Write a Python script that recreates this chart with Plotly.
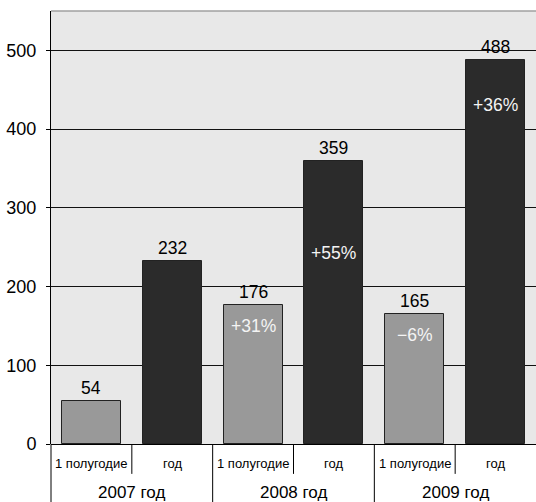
import plotly.graph_objects as go

categories = ["1 полугодие", "год", "1 полугодие", "год", "1 полугодие", "год"]
years = ["2007 год", "2008 год", "2009 год"]
values = [54, 232, 176, 359, 165, 488]
growth = ["", "", "+31%", "+55%", "−6%", "+36%"]
growth_shift = [0, 0, -21, -92, -21, -45]
bar_colors = ["#999999", "#2b2b2b", "#999999", "#2b2b2b", "#999999", "#2b2b2b"]
y_ticks = [0, 100, 200, 300, 400, 500]

FONT = "Liberation Sans, Arial, sans-serif"

x = list(range(len(values)))

fig = go.Figure()
fig.add_trace(go.Bar(
    x=x, y=values, width=0.73,
    marker=dict(color=bar_colors, line=dict(color="#222222", width=1)),
    hoverinfo="skip",
))

ann = []
for i, v in enumerate(values):
    ann.append(dict(x=i, y=v, xref="x", yref="y", text=str(v), showarrow=False,
                    yanchor="bottom", yshift=1, font=dict(family=FONT, size=17.5, color="black")))
    if growth[i]:
        ann.append(dict(x=i, y=v, xref="x", yref="y", text=growth[i], showarrow=False,
                        yanchor="middle", yshift=growth_shift[i],
                        font=dict(family=FONT, size=17.5, color="#f4f4f4")))
    ann.append(dict(x=i, y=-0.045, xref="x", yref="paper", text=categories[i], showarrow=False,
                    yanchor="middle", font=dict(family=FONT, size=13, color="black")))
for j, yr in enumerate(years):
    ann.append(dict(x=2 * j + 0.5, y=-0.113, xref="x", yref="paper", text=yr, showarrow=False,
                    yanchor="middle", font=dict(family=FONT, size=17, color="black")))

shapes = []
# top border
shapes.append(dict(type="line", xref="paper", yref="paper", x0=0, x1=1, y0=1, y1=1,
                   line=dict(color="#a0a0a0", width=1.5)))
# left axis extension below
shapes.append(dict(type="line", xref="paper", yref="paper", x0=0, x1=0, y0=0, y1=-0.14,
                   line=dict(color="black", width=1)))
for k in range(len(values) - 1):
    b = k + 0.5
    y1 = -0.069 if k % 2 == 0 else -0.14
    shapes.append(dict(type="line", xref="x", yref="paper", x0=b, x1=b, y0=0, y1=y1,
                       line=dict(color="black", width=1)))

fig.update_layout(
    width=536, height=502,
    margin=dict(l=51, r=0, t=11, b=58),
    paper_bgcolor="white", plot_bgcolor="#e8e8e8",
    showlegend=False, bargap=0,
    annotations=ann, shapes=shapes,
    font=dict(family=FONT, size=17, color="black"),
    xaxis=dict(range=[-0.5, 5.5], showticklabels=False, showgrid=False, zeroline=False,
               ticks="", showline=False, fixedrange=True),
    yaxis=dict(range=[0, 550], tickvals=y_ticks, showgrid=True, gridcolor="#111111",
               gridwidth=1, zeroline=True, zerolinecolor="black", zerolinewidth=1,
               showline=True, linecolor="black", linewidth=1,
               ticks="outside", ticklen=4, tickcolor="black", ticklabelstandoff=6,
               tickfont=dict(family=FONT, size=18, color="black"), fixedrange=True),
)

fig.write_html("out.html")
